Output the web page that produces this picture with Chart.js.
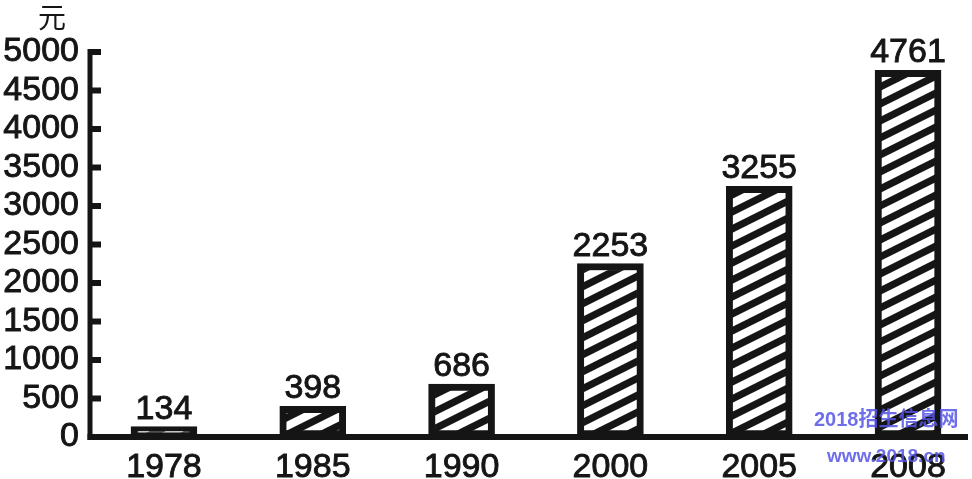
<!DOCTYPE html>
<html>
<head>
<meta charset="utf-8">
<script src="https://cdn.jsdelivr.net/npm/chart.js@4"></script>
<style>
  html, body { margin: 0; padding: 0; background: #fff; }
  #wrap { position: relative; width: 972px; height: 479px; }
  #mark { position: absolute; left: 814px; top: 409px; color: rgba(85, 85, 230, 0.85);
          font-family: 'Liberation Sans', Arial, 'Noto Sans CJK SC', sans-serif; font-weight: bold;
          text-align: center; line-height: 1; }
  #mark .a { font-size: 20px; }
  #mark .b { font-size: 19px; margin-top: 17px; }
</style>
</head>
<body>
<div id="wrap">
  <canvas id="chart" width="972" height="479"></canvas>
  <div id="mark"><div class="a">2018招生信息网</div><div class="b">www.2018.cn</div></div>
</div>
<script>
// --- data ---
const years = ['1978', '1985', '1990', '2000', '2005', '2008'];
const income = [134, 398, 686, 2253, 3255, 4761];
const unitLabel = '元';

const FONT = "'Liberation Sans', Arial, sans-serif";
const INK = '#151515';

// diagonal "/" stripes for the bars
function makeHatch() {
    const w = 34, h = 17;
    const c = document.createElement('canvas');
    c.width = w; c.height = h;
    const g = c.getContext('2d');
    g.fillStyle = '#fff';
    g.fillRect(0, 0, w, h);
    g.strokeStyle = INK;
    g.lineWidth = 7.2;
    for (let k = -1; k <= 1; k++) {
        g.beginPath();
        g.moveTo(-2, h + k * h + 1);
        g.lineTo(w + 2, k * h - 1);
        g.stroke();
    }
    return document.getElementById('chart').getContext('2d').createPattern(c, 'repeat');
}

// axes with inward tick stubs, value labels, unit label
const decorations = {
    id: 'decorations',
    afterDraw(chart) {
        const ctx = chart.ctx;
        const ys = chart.scales.y;
        const area = chart.chartArea;
        ctx.save();
        ctx.strokeStyle = INK;
        ctx.lineCap = 'butt';
        // y axis
        ctx.lineWidth = 5;
        ctx.beginPath();
        ctx.moveTo(area.left, ys.getPixelForValue(5000) - 3);
        ctx.lineTo(area.left, area.bottom + 3);
        ctx.stroke();
        // x axis
        ctx.lineWidth = 6;
        ctx.beginPath();
        ctx.moveTo(area.left - 2.5, area.bottom);
        ctx.lineTo(area.right, area.bottom);
        ctx.stroke();
        // tick stubs pointing into the plot
        ctx.lineWidth = 6;
        ys.ticks.forEach(t => {
            if (t.value === 0) return;
            const y = ys.getPixelForValue(t.value);
            ctx.beginPath();
            ctx.moveTo(area.left, y);
            ctx.lineTo(area.left + 11, y);
            ctx.stroke();
        });
        // value labels over the bars
        ctx.fillStyle = INK;
        ctx.lineWidth = 0.9;
        ctx.font = '34px ' + FONT;
        ctx.textAlign = 'center';
        ctx.textBaseline = 'alphabetic';
        chart.getDatasetMeta(0).data.forEach((bar, i) => {
            ctx.fillText(String(income[i]), bar.x, bar.y - 8);
            ctx.strokeText(String(income[i]), bar.x, bar.y - 8);
        });
        // unit
        ctx.font = "28px 'Noto Sans CJK SC', sans-serif";
        ctx.textBaseline = 'middle';
        ctx.fillText(unitLabel, 52, 17);
        ctx.restore();
    }
};

new Chart(document.getElementById('chart'), {
    type: 'bar',
    data: {
        datasets: [{
            data: income.map((v, i) => ({ x: i, y: v })),
            backgroundColor: makeHatch(),
            borderColor: INK,
            borderWidth: 7,
            borderSkipped: false,
            barThickness: 66
        }]
    },
    options: {
        responsive: false,
        animation: false,
        layout: { padding: { top: 52, right: 4, bottom: 0, left: 0 } },
        plugins: { legend: { display: false }, tooltip: { enabled: false } },
        scales: {
            x: {
                type: 'linear',
                offset: false,
                min: -0.497,
                max: 5.403,
                afterBuildTicks: axis => { axis.ticks = years.map((_, i) => ({ value: i })); },
                afterFit: axis => { axis.height = 42; },
                grid: { display: false, drawTicks: false },
                border: { display: false },
                ticks: {
                    callback: v => years[v],
                    color: INK,
                    textStrokeColor: INK,
                    textStrokeWidth: 0.9,
                    font: { family: FONT, size: 34 },
                    padding: 10,
                    maxRotation: 0,
                    autoSkip: false
                }
            },
            y: {
                min: 0,
                max: 5000,
                afterFit: axis => { axis.width = 90; },
                grid: { display: false, drawTicks: false },
                border: { display: false },
                ticks: {
                    stepSize: 500,
                    autoSkip: false,
                    callback: v => String(v),
                    color: INK,
                    textStrokeColor: INK,
                    textStrokeWidth: 0.9,
                    font: { family: FONT, size: 34 },
                    padding: 11
                }
            }
        }
    },
    plugins: [decorations]
});
</script>
</body>
</html>
